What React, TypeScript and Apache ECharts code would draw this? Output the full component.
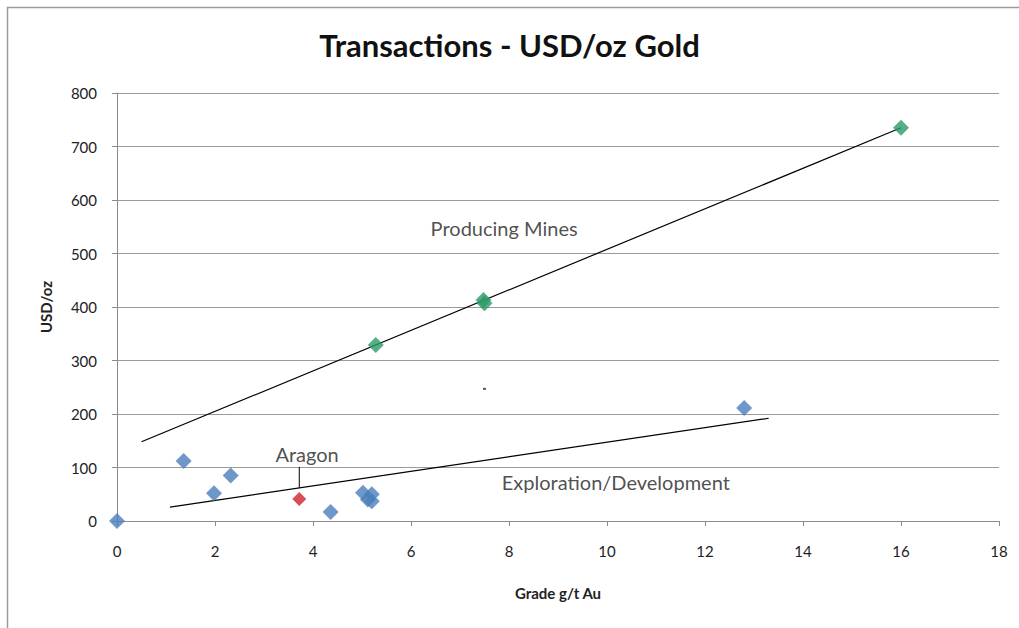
import React, { useEffect, useRef } from "react";
import * as echarts from "echarts";

const title = "Transactions - USD/oz Gold";
const xName = "Grade g/t Au";
const yName = "USD/oz";

// Exploration / development transactions [grade g/t, USD/oz]
const explorationPoints: [number, number][] = [
  [0, 0],
  [1.36, 112],
  [1.98, 52],
  [2.32, 85],
  [4.36, 17],
  [5.02, 53],
  [5.2, 50],
  [5.12, 40],
  [5.2, 37],
  [12.8, 211],
];
// Aragon
const aragonPoints: [number, number][] = [[3.72, 41]];
// Producing mines
const producingPoints: [number, number][] = [
  [5.28, 329],
  [7.48, 413],
  [7.5, 407],
  [16.0, 735],
];
// Trend lines
const producingTrend: [number, number][] = [
  [0.5, 148],
  [16.0, 735],
];
const explorationTrend: [number, number][] = [
  [1.08, 26],
  [13.3, 192],
];
const aragonLeader: [number, number][] = [
  [3.72, 101],
  [3.72, 62],
];
const strayMark: [number, number][] = [[7.5, 247]];

const annotations: { text: string; pos: [number, number] }[] = [
  { text: "Producing Mines", pos: [7.9, 548] },
  { text: "Aragon", pos: [3.88, 125] },
  { text: "Exploration/Development", pos: [10.18, 72] },
];

const FONT = "Lato, 'Open Sans', sans-serif";

export default function App() {
  const ref = useRef<HTMLDivElement>(null);
  useEffect(() => {
    if (!ref.current) return;
    const chart = echarts.init(ref.current, undefined, { renderer: "svg" });
    chart.setOption({
      animation: false,
      backgroundColor: "#ffffff",
      textStyle: { fontFamily: FONT },
      title: {
        text: title,
        left: "center",
        top: 24,
        textStyle: {
          fontFamily: FONT,
          fontSize: 31,
          fontWeight: "bold",
          color: "#111",
        },
      },
      graphic: [
        {
          type: "polyline",
          shape: { points: [[7.5, 628], [7.5, 7.5], [1019, 7.5]] },
          style: { stroke: "#9a9a9a", lineWidth: 1.5, fill: "none" },
          silent: true,
        },
      ],
      grid: { left: 117, right: 20, top: 93, bottom: 107 },
      xAxis: {
        type: "value",
        min: 0,
        max: 18,
        interval: 2,
        name: xName,
        nameLocation: "middle",
        nameGap: 64,
        nameTextStyle: { fontFamily: FONT, fontWeight: "bold", fontSize: 15, color: "#222" },
        axisLine: { show: true, onZero: false, lineStyle: { color: "#8c8c8c" } },
        axisTick: { show: true, length: 5, lineStyle: { color: "#8c8c8c" } },
        axisLabel: { margin: 22, fontSize: 15, color: "#222", fontFamily: FONT },
        splitLine: { show: false },
      },
      yAxis: {
        type: "value",
        min: 0,
        max: 800,
        interval: 100,
        name: yName,
        nameLocation: "middle",
        nameGap: 64,
        nameRotate: 90,
        nameTextStyle: { fontFamily: FONT, fontWeight: "bold", fontSize: 15, color: "#222" },
        axisLine: { show: true, lineStyle: { color: "#8c8c8c" } },
        axisTick: { show: true, length: 5, lineStyle: { color: "#8c8c8c" } },
        axisLabel: { margin: 20, fontSize: 15, color: "#222", fontFamily: FONT },
        splitLine: { show: true, lineStyle: { color: "#9a9a9a", width: 1 } },
      },
      series: [
        {
          type: "line",
          data: producingTrend,
          symbol: "none",
          lineStyle: { color: "#000", width: 1.2 },
          z: 3,
        },
        {
          type: "line",
          data: explorationTrend,
          symbol: "none",
          lineStyle: { color: "#000", width: 1.2 },
          z: 3,
        },
        {
          type: "line",
          data: aragonLeader,
          symbol: "none",
          lineStyle: { color: "#000", width: 1 },
          z: 3,
        },
        {
          type: "scatter",
          data: explorationPoints,
          symbol: "diamond",
          symbolSize: 16,
          itemStyle: { color: "#4a7ebb" },
          z: 4,
        },
        {
          type: "scatter",
          data: aragonPoints,
          symbol: "diamond",
          symbolSize: 14,
          itemStyle: { color: "#d0202a" },
          z: 4,
        },
        {
          type: "scatter",
          data: producingPoints,
          symbol: "diamond",
          symbolSize: 16,
          itemStyle: { color: "#2a9a68" },
          z: 4,
        },
        {
          type: "scatter",
          data: strayMark,
          symbol: "rect",
          symbolSize: [3, 2],
          itemStyle: { color: "#333" },
          z: 4,
        },
        {
          type: "scatter",
          data: annotations.map((a) => ({ value: a.pos, name: a.text })),
          symbolSize: 0,
          label: {
            show: true,
            position: "inside",
            formatter: (p: any) => p.name,
            fontFamily: FONT,
            fontSize: 20,
            color: "#222",
          },
          z: 5,
        },
      ],
    });
    return () => chart.dispose();
  }, []);
  return (
    <div
      ref={ref}
      style={{ position: "fixed", left: 0, top: 0, width: 1019, height: 628 }}
    />
  );
}
